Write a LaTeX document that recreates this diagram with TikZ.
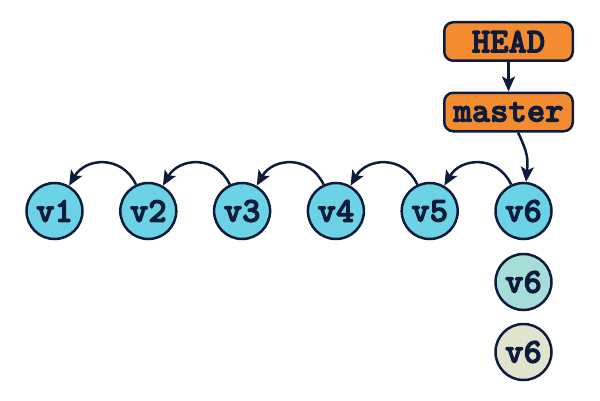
\documentclass[tikz,border=0pt]{standalone}
\usepackage{fontspec}
\newfontfamily\courbold[FakeBold=3]{lmmonolt10-bold.otf}
\usetikzlibrary{arrows.meta}
\definecolor{navy}{HTML}{0E1C3C}
\definecolor{cblue}{HTML}{6CD3E7}
\definecolor{corange}{HTML}{F38B30}
\definecolor{cteal}{HTML}{A7DDD8}
\definecolor{cbeige}{HTML}{E0E3CD}
\tikzset{
  lbl/.style={font=\fontsize{35}{37}\selectfont\courbold, text=navy},
  commit/.style={circle, draw=navy, line width=2.5pt, fill=cblue, minimum size=56pt, inner sep=0pt, lbl},
  ref/.style={rectangle, rounded corners=9pt, draw=navy, line width=2.5pt, fill=corange,
    minimum width=128.5pt, minimum height=38.5pt, inner sep=0pt, lbl},
  link/.style={draw=navy, line width=2.5pt, -{Stealth[length=15pt,width=13pt,inset=3.5pt]}}
}
\begin{document}
\begin{tikzpicture}[x=1pt,y=1pt]
\useasboundingbox (0,0) rectangle (600,400);
\node[commit] (v1) at (54.5,189) {v1};
\node[commit] (v2) at (148.3,189) {v2};
\node[commit] (v3) at (242.1,189) {v3};
\node[commit] (v4) at (335.9,189) {v4};
\node[commit] (v5) at (429.7,189) {v5};
\node[commit] (v6) at (523.5,189) {v6};
\node[commit, fill=cteal] (v6b) at (523.5,118) {v6};
\node[commit, fill=cbeige] (v6c) at (523.5,48) {v6};
\node[ref] (head) at (508.5,358.5) {HEAD};
\node[ref] (master) at (508.5,288) {master};
\draw[link] (head) -- (master);
\draw[link] (master) to[out=-65,in=85,looseness=1.2] (v6);
\draw[link] (v2) to[out=115,in=60,looseness=1.25] (v1);
\draw[link] (v3) to[out=115,in=60,looseness=1.25] (v2);
\draw[link] (v4) to[out=115,in=60,looseness=1.25] (v3);
\draw[link] (v5) to[out=115,in=60,looseness=1.25] (v4);
\draw[link] (v6) to[out=115,in=60,looseness=1.25] (v5);
\end{tikzpicture}
\end{document}
